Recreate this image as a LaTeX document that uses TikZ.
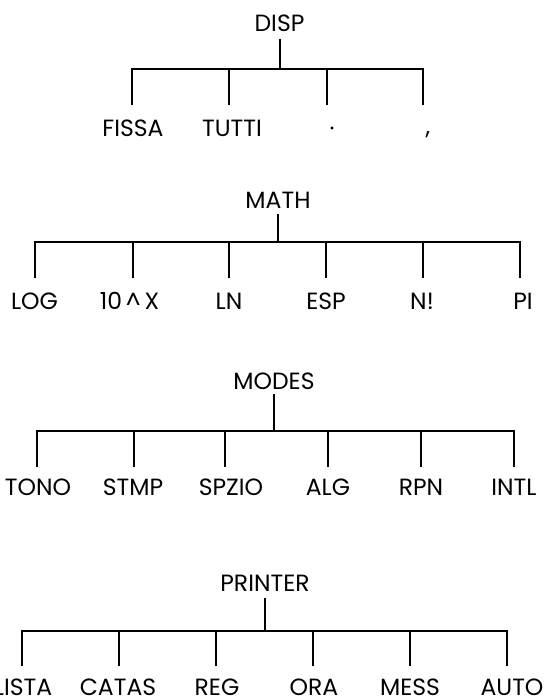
\documentclass[tikz,border=0pt]{standalone}
\usepackage{fontspec}
\setmainfont{Poppins}
\begin{document}
\begin{tikzpicture}[x=1pt,y=-1pt,
  lbl/.style={inner sep=0pt, font=\fontsize{23.5}{23.5}\selectfont, text height=16.5pt, text depth=0pt, anchor=center},
  ln/.style={line width=2pt, draw=black}]
\useasboundingbox (0,0) rectangle (544,699);
% ---------- DISP ----------
\node[lbl] (disp) at (279.5,23) {DISP};
\coordinate (dispj) at (279.5,69);
\draw[ln] ([yshift=-7.5pt]disp.south) -- (dispj);
\node[lbl] (fissa) at (133,128.5) {FISSA};
\node[lbl] (tutti) at (232,128.5) {TUTTI};
\node[lbl] (dot) at (332,128.5) {·};
\node[lbl] (comma) at (428,126) {,};
\coordinate (fissat) at (132,105);
\coordinate (tuttit) at (229,105);
\coordinate (dott) at (327,105);
\coordinate (commat) at (423,105);
\foreach \c in {fissat,tuttit,dott,commat} \draw[ln] (\c) |- (dispj);
% ---------- MATH ----------
\node[lbl] (math) at (278,200) {MATH};
\coordinate (mathj) at (278,242);
\draw[ln] ([yshift=-6pt]math.south) -- (mathj);
\node[lbl] (log) at (34.5,301.5) {LOG};
\node[lbl] (tenx) at (129.5,301.5) {10\,\textasciicircum\,X};
\node[lbl] (ln) at (229,301.5) {LN};
\node[lbl] (esp) at (326,301.5) {ESP};
\node[lbl] (nfact) at (422,301.5) {N!};
\node[lbl] (pi) at (523,301.5) {PI};
\coordinate (logt) at (35,278);
\coordinate (tenxt) at (133,278);
\coordinate (lnt) at (229,278);
\coordinate (espt) at (326,278);
\coordinate (nfactt) at (423,278);
\coordinate (pit) at (520,278);
\foreach \c in {logt,tenxt,lnt,espt,nfactt,pit} \draw[ln] (\c) |- (mathj);
% ---------- MODES ----------
\node[lbl] (modes) at (274,381) {MODES};
\coordinate (modesj) at (274,431);
\draw[ln] ([yshift=-5pt]modes.south) -- (modesj);
\node[lbl] (tono) at (38,487.5) {TONO};
\node[lbl] (stmp) at (133,487.5) {STMP};
\node[lbl] (spzio) at (231,487.5) {SPZIO};
\node[lbl] (alg) at (328,487.5) {ALG};
\node[lbl] (rpn) at (421,487.5) {RPN};
\node[lbl] (intl) at (514,487.5) {INTL};
\coordinate (tonot) at (37,467);
\coordinate (stmpt) at (134,467);
\coordinate (spziot) at (225,467);
\coordinate (algt) at (328,467);
\coordinate (rpnt) at (421,467);
\coordinate (intlt) at (514,467);
\foreach \c in {tonot,stmpt,spziot,algt,rpnt,intlt} \draw[ln] (\c) |- (modesj);
% ---------- PRINTER ----------
\node[lbl] (printer) at (265,583) {PRINTER};
\coordinate (printerj) at (265,631);
\draw[ln] ([yshift=-7pt]printer.south) -- (printerj);
\node[lbl] (lista) at (23,687.5) {LISTA};
\node[lbl] (catas) at (118,687.5) {CATAS};
\node[lbl] (reg) at (217,687.5) {REG};
\node[lbl] (ora) at (314,687.5) {ORA};
\node[lbl] (mess) at (410,687.5) {MESS};
\node[lbl] (auto) at (512,687.5) {AUTO};
\coordinate (listat) at (22,666);
\coordinate (catast) at (119,666);
\coordinate (regt) at (216,666);
\coordinate (orat) at (313,666);
\coordinate (messt) at (410,666);
\coordinate (autot) at (507,666);
\foreach \c in {listat,catast,regt,orat,messt,autot} \draw[ln] (\c) |- (printerj);
\end{tikzpicture}
\end{document}
